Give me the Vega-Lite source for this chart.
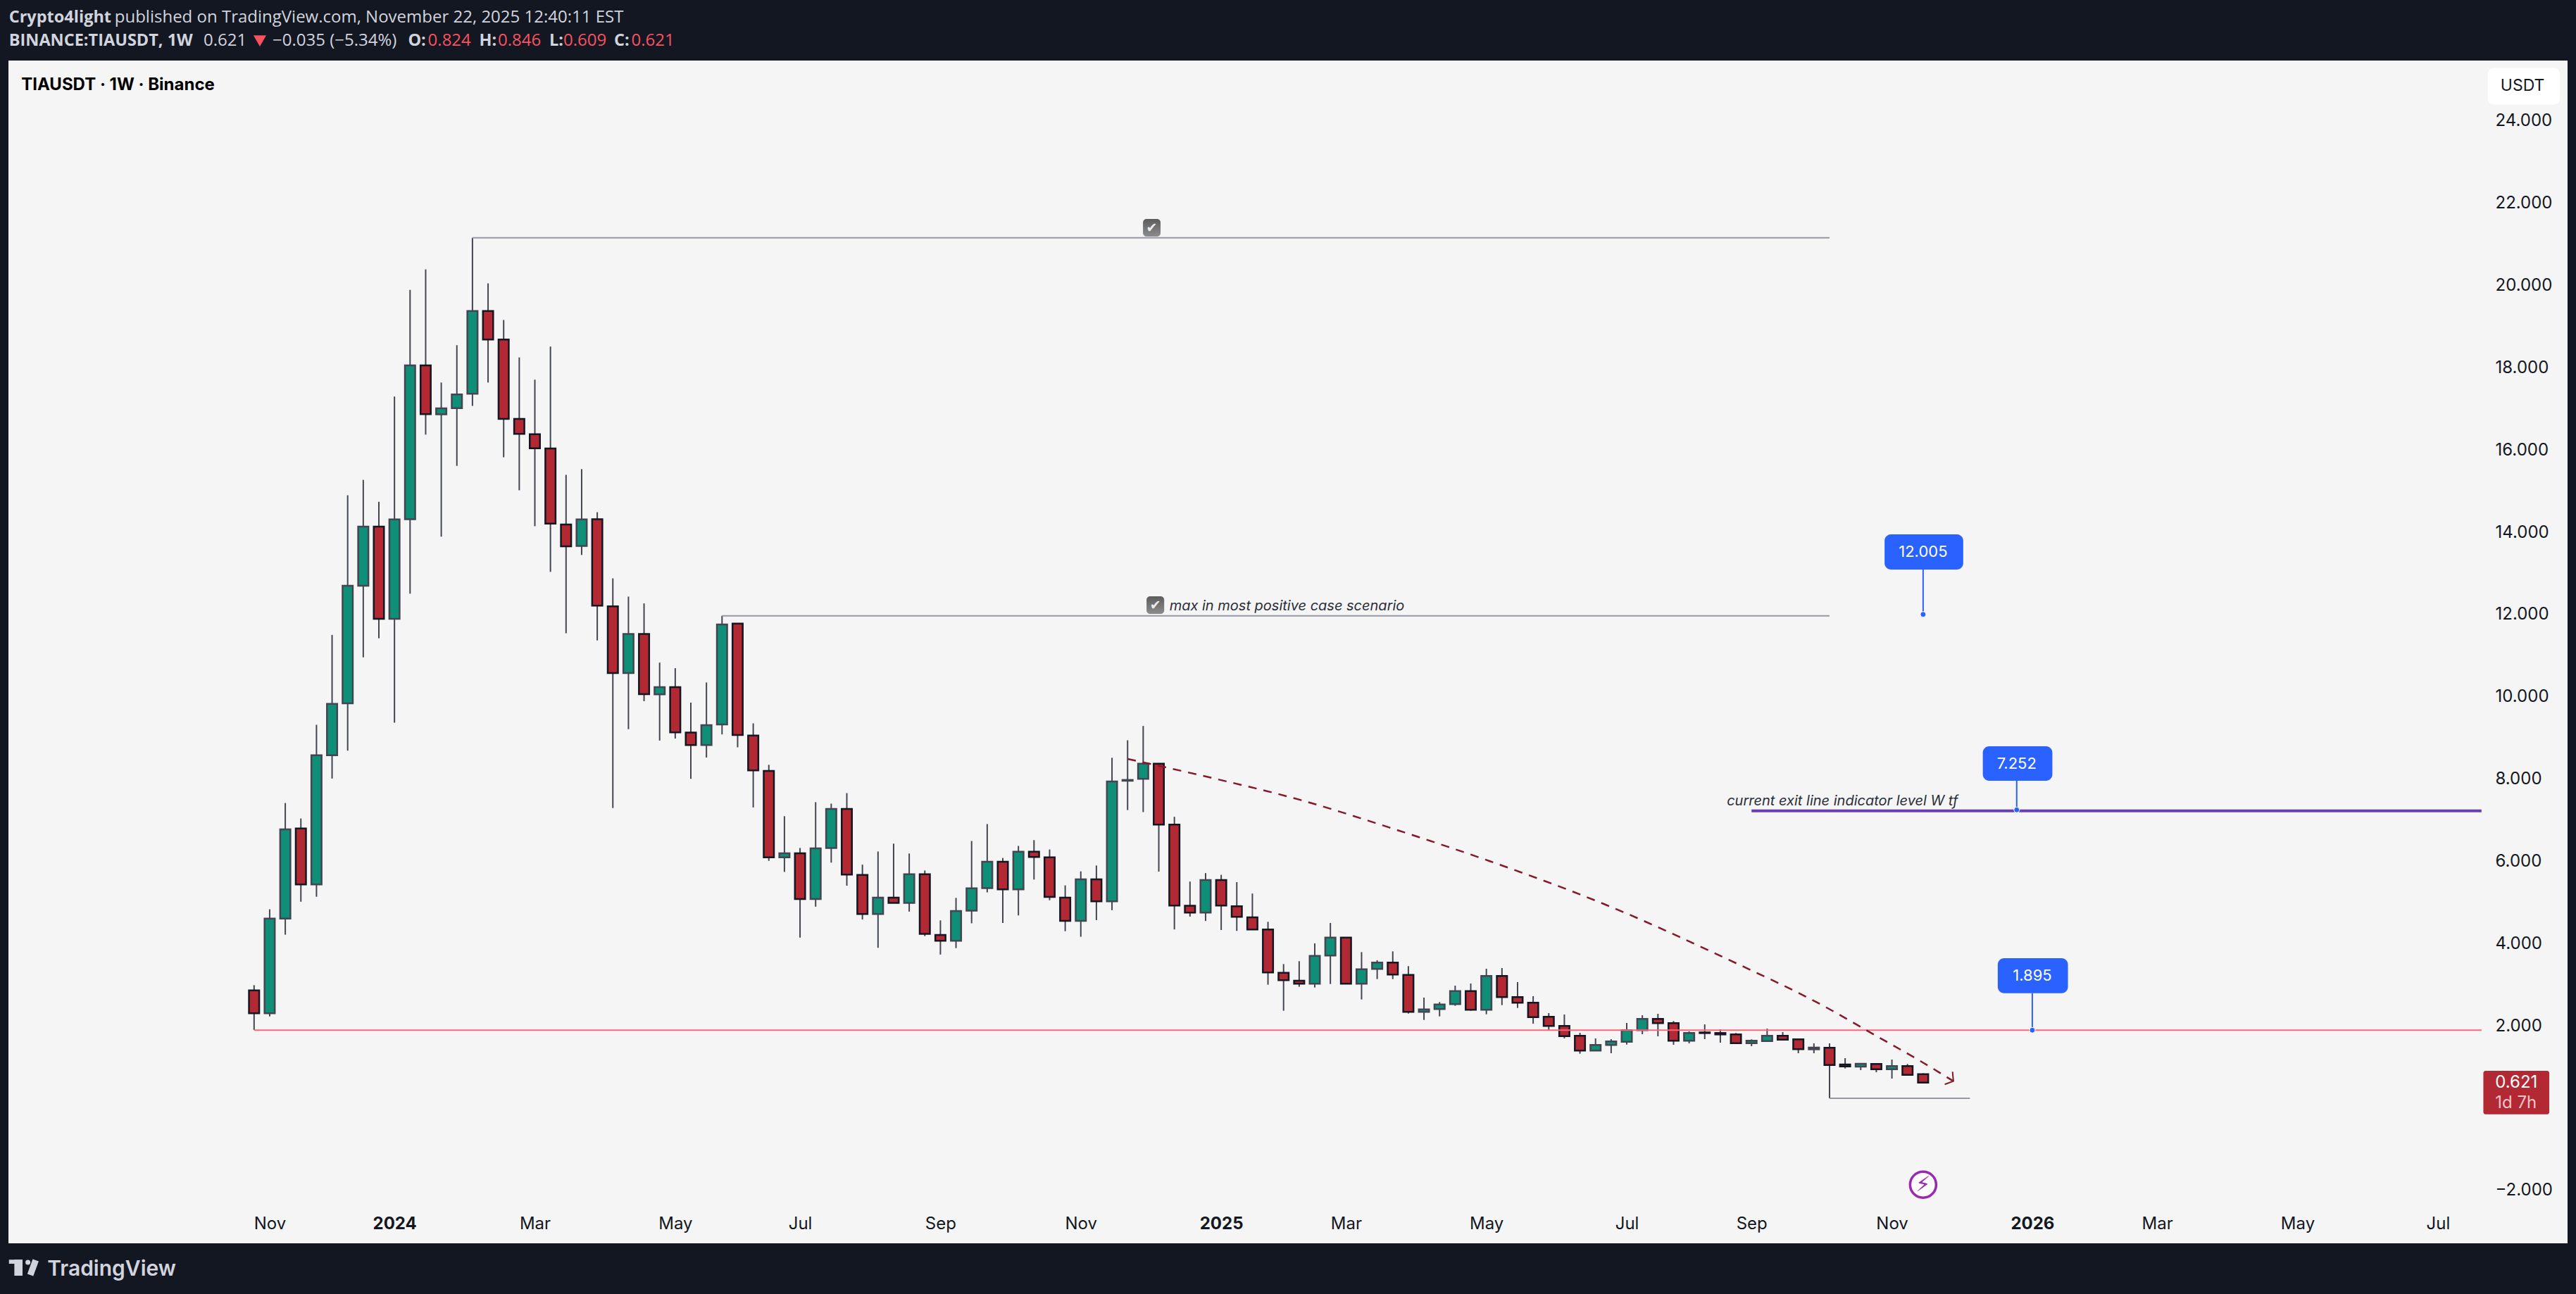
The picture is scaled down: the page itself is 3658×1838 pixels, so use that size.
{
  "$schema": "https://vega.github.io/schema/vega-lite/v6.json",
  "autosize": {"type": "none"},
  "padding": {"left": 12, "top": 86, "right": 12, "bottom": 72},
  "width": 3634,
  "height": 1680,
  "background": "#131722",
  "view": {"fill": "#f5f5f5", "stroke": null},
  "datasets": {
    "candles": [
      {"date":"2023-10-30","open":2.861,"high":2.989,"low":1.903,"close":2.308},
      {"date":"2023-11-06","open":2.308,"high":4.834,"low":2.23,"close":4.607},
      {"date":"2023-11-13","open":4.607,"high":7.418,"low":4.217,"close":6.779},
      {"date":"2023-11-20","open":6.8,"high":7.042,"low":5.019,"close":5.438},
      {"date":"2023-11-27","open":5.438,"high":9.32,"low":5.14,"close":8.582},
      {"date":"2023-12-04","open":8.582,"high":11.506,"low":8.014,"close":9.831},
      {"date":"2023-12-11","open":9.843,"high":14.9,"low":8.69,"close":12.699},
      {"date":"2023-12-18","open":12.7,"high":15.275,"low":10.96,"close":14.14},
      {"date":"2023-12-25","open":14.14,"high":14.742,"low":11.424,"close":11.895},
      {"date":"2024-01-01","open":11.895,"high":17.3,"low":9.371,"close":14.315},
      {"date":"2024-01-08","open":14.32,"high":19.895,"low":12.507,"close":18.061},
      {"date":"2024-01-15","open":18.06,"high":20.393,"low":16.376,"close":16.874},
      {"date":"2024-01-22","open":16.87,"high":17.642,"low":13.895,"close":17.013},
      {"date":"2024-01-29","open":17.02,"high":18.55,"low":15.616,"close":17.354},
      {"date":"2024-02-05","open":17.37,"high":21.16,"low":17.074,"close":19.38},
      {"date":"2024-02-12","open":19.38,"high":20.053,"low":17.642,"close":18.69},
      {"date":"2024-02-19","open":18.69,"high":19.162,"low":15.825,"close":16.76},
      {"date":"2024-02-26","open":16.76,"high":18.253,"low":15.022,"close":16.393},
      {"date":"2024-03-04","open":16.385,"high":17.712,"low":14.149,"close":16.044},
      {"date":"2024-03-11","open":16.04,"high":18.515,"low":13.039,"close":14.21},
      {"date":"2024-03-18","open":14.19,"high":15.398,"low":11.546,"close":13.66},
      {"date":"2024-03-25","open":13.67,"high":15.537,"low":13.45,"close":14.315},
      {"date":"2024-04-01","open":14.32,"high":14.489,"low":11.371,"close":12.218},
      {"date":"2024-04-08","open":12.2,"high":12.882,"low":7.297,"close":10.577},
      {"date":"2024-04-15","open":10.577,"high":12.437,"low":9.213,"close":11.529},
      {"date":"2024-04-22","open":11.527,"high":12.272,"low":9.895,"close":10.065},
      {"date":"2024-04-29","open":10.06,"high":10.832,"low":8.937,"close":10.235},
      {"date":"2024-05-06","open":10.235,"high":10.697,"low":8.986,"close":9.135},
      {"date":"2024-05-13","open":9.13,"high":9.859,"low":8.007,"close":8.83},
      {"date":"2024-05-20","open":8.83,"high":10.349,"low":8.525,"close":9.313},
      {"date":"2024-05-27","open":9.33,"high":11.97,"low":9.086,"close":11.761},
      {"date":"2024-06-03","open":11.78,"high":11.79,"low":8.773,"close":9.071},
      {"date":"2024-06-10","open":9.06,"high":9.355,"low":7.311,"close":8.213},
      {"date":"2024-06-17","open":8.2,"high":8.348,"low":6.013,"close":6.098},
      {"date":"2024-06-24","open":6.098,"high":7.098,"low":5.743,"close":6.197},
      {"date":"2024-07-01","open":6.197,"high":6.325,"low":4.146,"close":5.083},
      {"date":"2024-07-08","open":5.083,"high":7.439,"low":4.898,"close":6.318},
      {"date":"2024-07-15","open":6.325,"high":7.404,"low":5.97,"close":7.276},
      {"date":"2024-07-22","open":7.276,"high":7.659,"low":5.409,"close":5.679},
      {"date":"2024-07-29","open":5.67,"high":5.92,"low":4.586,"close":4.721},
      {"date":"2024-08-05","open":4.721,"high":6.24,"low":3.898,"close":5.118},
      {"date":"2024-08-12","open":5.118,"high":6.431,"low":4.99,"close":4.991},
      {"date":"2024-08-19","open":4.99,"high":6.19,"low":4.778,"close":5.686},
      {"date":"2024-08-26","open":5.686,"high":5.778,"low":4.182,"close":4.238},
      {"date":"2024-09-02","open":4.21,"high":4.565,"low":3.734,"close":4.068},
      {"date":"2024-09-09","open":4.068,"high":5.111,"low":3.891,"close":4.792},
      {"date":"2024-09-16","open":4.8,"high":6.495,"low":4.494,"close":5.345},
      {"date":"2024-09-23","open":5.35,"high":6.907,"low":5.246,"close":5.991},
      {"date":"2024-09-30","open":5.991,"high":6.083,"low":4.501,"close":5.317},
      {"date":"2024-10-07","open":5.317,"high":6.375,"low":4.685,"close":6.233},
      {"date":"2024-10-14","open":6.233,"high":6.516,"low":5.558,"close":6.105},
      {"date":"2024-10-21","open":6.1,"high":6.289,"low":5.054,"close":5.133},
      {"date":"2024-10-28","open":5.12,"high":5.416,"low":4.302,"close":4.551},
      {"date":"2024-11-04","open":4.551,"high":5.757,"low":4.167,"close":5.565},
      {"date":"2024-11-11","open":5.565,"high":5.899,"low":4.572,"close":5.026},
      {"date":"2024-11-18","open":5.026,"high":8.518,"low":4.813,"close":7.943},
      {"date":"2024-11-25","open":7.96,"high":8.944,"low":7.247,"close":7.979},
      {"date":"2024-12-02","open":8.007,"high":9.292,"low":7.198,"close":8.376},
      {"date":"2024-12-09","open":8.376,"high":8.39,"low":5.75,"close":6.893},
      {"date":"2024-12-16","open":6.893,"high":7.084,"low":4.345,"close":4.927},
      {"date":"2024-12-23","open":4.92,"high":5.509,"low":4.657,"close":4.756},
      {"date":"2024-12-30","open":4.756,"high":5.715,"low":4.551,"close":5.544},
      {"date":"2025-01-06","open":5.544,"high":5.672,"low":4.33,"close":4.927},
      {"date":"2025-01-13","open":4.91,"high":5.495,"low":4.309,"close":4.65},
      {"date":"2025-01-20","open":4.64,"high":5.218,"low":4.345,"close":4.345},
      {"date":"2025-01-27","open":4.342,"high":4.53,"low":3.001,"close":3.298},
      {"date":"2025-02-03","open":3.29,"high":3.503,"low":2.368,"close":3.11},
      {"date":"2025-02-10","open":3.1,"high":3.572,"low":2.95,"close":3.024},
      {"date":"2025-02-17","open":3.024,"high":4.005,"low":2.933,"close":3.703},
      {"date":"2025-02-24","open":3.71,"high":4.502,"low":3.018,"close":4.148},
      {"date":"2025-03-03","open":4.148,"high":4.148,"low":3.02,"close":3.024},
      {"date":"2025-03-10","open":3.024,"high":3.794,"low":2.642,"close":3.378},
      {"date":"2025-03-17","open":3.383,"high":3.595,"low":3.138,"close":3.538},
      {"date":"2025-03-24","open":3.538,"high":3.811,"low":3.138,"close":3.247},
      {"date":"2025-03-31","open":3.24,"high":3.452,"low":2.299,"close":2.339},
      {"date":"2025-04-07","open":2.339,"high":2.687,"low":2.145,"close":2.402},
      {"date":"2025-04-14","open":2.408,"high":2.579,"low":2.231,"close":2.522},
      {"date":"2025-04-21","open":2.528,"high":2.978,"low":2.488,"close":2.847},
      {"date":"2025-04-28","open":2.847,"high":3.03,"low":2.368,"close":2.391},
      {"date":"2025-05-05","open":2.391,"high":3.389,"low":2.282,"close":3.212},
      {"date":"2025-05-12","open":3.212,"high":3.406,"low":2.505,"close":2.699},
      {"date":"2025-05-19","open":2.699,"high":3.064,"low":2.436,"close":2.562},
      {"date":"2025-05-26","open":2.562,"high":2.722,"low":2.054,"close":2.214},
      {"date":"2025-06-02","open":2.22,"high":2.311,"low":1.9,"close":1.997},
      {"date":"2025-06-09","open":1.997,"high":2.277,"low":1.695,"close":1.752},
      {"date":"2025-06-16","open":1.758,"high":1.832,"low":1.324,"close":1.398},
      {"date":"2025-06-23","open":1.398,"high":1.695,"low":1.398,"close":1.535},
      {"date":"2025-06-30","open":1.535,"high":1.677,"low":1.335,"close":1.62},
      {"date":"2025-07-07","open":1.615,"high":2.071,"low":1.546,"close":1.894},
      {"date":"2025-07-14","open":1.894,"high":2.259,"low":1.797,"close":2.168},
      {"date":"2025-07-21","open":2.168,"high":2.294,"low":1.746,"close":2.065},
      {"date":"2025-07-28","open":2.065,"high":2.117,"low":1.541,"close":1.637},
      {"date":"2025-08-04","open":1.637,"high":1.866,"low":1.575,"close":1.826},
      {"date":"2025-08-11","open":1.84,"high":2.037,"low":1.677,"close":1.825},
      {"date":"2025-08-18","open":1.826,"high":1.917,"low":1.592,"close":1.792},
      {"date":"2025-08-25","open":1.792,"high":1.826,"low":1.58,"close":1.58},
      {"date":"2025-09-01","open":1.58,"high":1.672,"low":1.506,"close":1.637},
      {"date":"2025-09-08","open":1.632,"high":1.934,"low":1.632,"close":1.757},
      {"date":"2025-09-15","open":1.757,"high":1.849,"low":1.666,"close":1.666},
      {"date":"2025-09-22","open":1.672,"high":1.695,"low":1.335,"close":1.432},
      {"date":"2025-09-29","open":1.43,"high":1.575,"low":1.335,"close":1.472},
      {"date":"2025-10-06","open":1.466,"high":1.575,"low":0.24,"close":1.05},
      {"date":"2025-10-13","open":1.06,"high":1.215,"low":0.964,"close":1.016},
      {"date":"2025-10-20","open":1.01,"high":1.096,"low":0.924,"close":1.078},
      {"date":"2025-10-27","open":1.073,"high":1.096,"low":0.873,"close":0.947},
      {"date":"2025-11-03","open":0.947,"high":1.181,"low":0.719,"close":1.021},
      {"date":"2025-11-10","open":1.021,"high":1.073,"low":0.81,"close":0.81},
      {"date":"2025-11-17","open":0.824,"high":0.846,"low":0.609,"close":0.621}
    ],
    "levels": [
      {"name":"top","from":"2024-02-05","to":"2025-10-06","price":21.16},
      {"name":"mid","from":"2024-05-27","to":"2025-10-06","price":11.97},
      {"name":"low","from":"2025-10-06","to":"2025-12-08","price":0.24}
    ],
    "trend": [
      {"date":"2024-11-25T00:00:00Z","price":8.49},
      {"date":"2024-12-30T14:00:00Z","price":8.057},
      {"date":"2025-02-11T00:00:00Z","price":7.486},
      {"date":"2025-03-25T07:00:00Z","price":6.773},
      {"date":"2025-05-06T14:00:00Z","price":6.003},
      {"date":"2025-06-27T12:00:00Z","price":4.947},
      {"date":"2025-08-20T17:00:00Z","price":3.634},
      {"date":"2025-10-04T00:00:00Z","price":2.465},
      {"date":"2025-10-26T05:00:00Z","price":1.78},
      {"date":"2025-11-17T07:00:00Z","price":1.096},
      {"date":"2025-11-30T14:00:00Z","price":0.656}
    ],
    "arrow": [
      {"date":"2025-11-30T05:00:00Z","price":0.885},
      {"date":"2025-11-30T14:00:00Z","price":0.656},
      {"date":"2025-11-26T17:00:00Z","price":0.577}
    ],
    "callouts": [
      {"date":"2025-11-17","price":12.005,"from":"2025-10-30T17:00:00Z","to":"2025-12-05T00:00:00Z","top":13.95,"bottom":13.095,"mid":13.52},
      {"date":"2025-12-29","price":7.252,"from":"2025-12-13T19:00:00Z","to":"2026-01-14T00:00:00Z","top":8.8,"bottom":7.96,"mid":8.37},
      {"date":"2026-01-05","price":1.895,"from":"2025-12-20T12:00:00Z","to":"2026-01-21T00:00:00Z","top":3.646,"bottom":2.795,"mid":3.218}
    ],
    "checks": [
      {"from":"2024-12-01T22:00:00Z","to":"2024-12-09T19:00:00Z","mid":"2024-12-05T20:00:00Z","top":21.62,"bottom":21.19,"price":21.405},
      {"from":"2024-12-03T12:00:00Z","to":"2024-12-11T10:00:00Z","mid":"2024-12-07T11:00:00Z","top":12.444,"bottom":12.016,"price":12.23}
    ],
    "notes": [
      {"date":"2024-12-13T19:00:00Z","price":12.213,"text":"max in most positive case scenario"},
      {"date":"2025-08-20T22:00:00Z","price":7.458,"text":"current exit line indicator level W tf"}
    ],
    "headerBold": [
      {"date":"2023-07-12","price":26.52,"text":"Crypto4light"},
      {"date":"2023-07-12","price":25.95,"text":"BINANCE:TIAUSDT, 1W"},
      {"date":"2024-01-07T02:00:00Z","price":25.95,"text":"O:"},
      {"date":"2024-02-08T00:00:00Z","price":25.95,"text":"H:"},
      {"date":"2024-03-10T12:00:00Z","price":25.95,"text":"L:"},
      {"date":"2024-04-08T14:00:00Z","price":25.95,"text":"C:"}
    ],
    "headerPlain": [
      {"date":"2023-08-28T10:00:00Z","price":26.52,"text":"published on TradingView.com, November 22, 2025 12:40:11 EST"},
      {"date":"2023-10-07T07:00:00Z","price":25.95,"text":"0.621"},
      {"date":"2023-11-07T07:00:00Z","price":25.95,"text":"−0.035 (−5.34%)"}
    ],
    "headerRed": [
      {"date":"2024-01-16","price":25.95,"text":"0.824"},
      {"date":"2024-02-16T10:00:00Z","price":25.95,"text":"0.846"},
      {"date":"2024-03-16T19:00:00Z","price":25.95,"text":"0.609"},
      {"date":"2024-04-16T07:00:00Z","price":25.95,"text":"0.621"}
    ],
    "logoBars": [
      {"from":"2023-07-12T00:00:00Z","to":"2023-07-18T02:00:00Z","top":-3.685,"bottom":-3.783},
      {"from":"2023-07-14T10:00:00Z","to":"2023-07-18T02:00:00Z","top":-3.685,"bottom":-4.074}
    ],
    "logoSlash": [
      {"date":"2023-07-24T00:00:00Z","price":-3.697},
      {"date":"2023-07-21T14:00:00Z","price":-4.057}
    ]
  },
  "resolve": {"axis": {"x": "independent", "y": "independent"}},
  "layer": [
    {
      "data": {"name": "candles"},
      "mark": {"type": "rule", "color": "#434651", "strokeWidth": 2},
      "encoding": {
        "x": {
          "field": "date",
          "type": "temporal",
          "title": null,
          "scale": {"type": "utc", "nice": false, "padding": 0, "domain": ["2023-07-11T18:29:00Z", "2026-09-02T04:48:00Z"]},
          "axis": {
            "values": ["2023-11-06T00:00:00Z","2024-01-01T00:00:00Z","2024-03-04T00:00:00Z","2024-05-06T00:00:00Z","2024-07-01T00:00:00Z","2024-09-02T00:00:00Z","2024-11-04T00:00:00Z","2025-01-06T00:00:00Z","2025-03-03T00:00:00Z","2025-05-05T00:00:00Z","2025-07-07T00:00:00Z","2025-09-01T00:00:00Z","2025-11-03T00:00:00Z","2026-01-05T00:00:00Z","2026-03-02T00:00:00Z","2026-05-04T00:00:00Z","2026-07-06T00:00:00Z"],
            "labelExpr": "utcmonth(datum.value)==0 ? utcFormat(datum.value,'%Y') : utcFormat(datum.value,'%b')",
            "labelFontWeight": {"condition": {"test": "utcmonth(datum.value)==0", "value": 700}, "value": 400},
            "domain": false,
            "ticks": false,
            "grid": false,
            "labelFont": "Inter",
            "labelFontSize": 24,
            "labelColor": "#131722",
            "labelBaseline": "middle",
            "labelPadding": -28,
            "labelOverlap": false,
            "labelFlush": false
          }
        },
        "y": {
          "field": "low",
          "type": "quantitative",
          "title": null,
          "scale": {"domain": [-3.287, 25.471], "nice": false, "zero": false},
          "axis": {
            "orient": "right",
            "values": [-2,2,4,6,8,10,12,14,16,18,20,22,24],
            "format": ".3f",
            "domain": false,
            "ticks": false,
            "grid": false,
            "labelFont": "Inter",
            "labelFontSize": 24,
            "labelColor": "#131722",
            "labelAlign": "left",
            "labelPadding": -103,
            "labelOverlap": false,
            "labelFlush": false
          }
        },
        "y2": {"field": "high"}
      }
    },
    {
      "data": {"name": "candles"},
      "mark": {"type": "bar", "size": 14.5, "strokeWidth": 2.5},
      "encoding": {
        "x": {"field": "date", "type": "temporal", "scale": {"type": "utc"}, "axis": null},
        "y": {"field": "open", "type": "quantitative", "axis": null},
        "y2": {"field": "close"},
        "fill": {"condition": {"test": "datum.close >= datum.open", "value": "#0f8f77"}, "value": "#b22833"},
        "stroke": {"condition": {"test": "datum.close >= datum.open", "value": "#434651"}, "value": "#131722"}
      }
    },
    {
      "data": {"name": "levels"},
      "mark": {"type": "rule", "color": "#9598a1", "strokeWidth": 2},
      "encoding": {
        "x": {"field": "from", "type": "temporal", "scale": {"type": "utc"}, "axis": null},
        "x2": {"field": "to"},
        "y": {"field": "price", "type": "quantitative", "axis": null}
      }
    },
    {
      "data": {"values": [{"from": "2023-10-30", "to": "2026-07-25T14:00:00Z", "price": 1.895}]},
      "mark": {"type": "rule", "color": "#f7677a", "strokeWidth": 2},
      "encoding": {
        "x": {"field": "from", "type": "temporal", "scale": {"type": "utc"}, "axis": null},
        "x2": {"field": "to"},
        "y": {"field": "price", "type": "quantitative", "axis": null}
      }
    },
    {
      "data": {"values": [{"from": "2025-09-01", "to": "2026-07-25T14:00:00Z", "price": 7.229}]},
      "mark": {"type": "rule", "color": "#673fb0", "strokeWidth": 4},
      "encoding": {
        "x": {"field": "from", "type": "temporal", "scale": {"type": "utc"}, "axis": null},
        "x2": {"field": "to"},
        "y": {"field": "price", "type": "quantitative", "axis": null}
      }
    },
    {
      "data": {"name": "trend"},
      "mark": {"type": "line", "color": "#85192b", "strokeWidth": 2.5, "strokeDash": [12, 10], "interpolate": "monotone"},
      "encoding": {
        "x": {"field": "date", "type": "temporal", "scale": {"type": "utc"}, "axis": null},
        "y": {"field": "price", "type": "quantitative", "axis": null}
      }
    },
    {
      "data": {"name": "arrow"},
      "mark": {"type": "line", "color": "#85192b", "strokeWidth": 2},
      "encoding": {
        "x": {"field": "date", "type": "temporal", "scale": {"type": "utc"}, "axis": null},
        "y": {"field": "price", "type": "quantitative", "axis": null},
        "order": {"field": "price", "sort": "descending"}
      }
    },
    {
      "data": {"name": "callouts"},
      "mark": {"type": "rule", "color": "#2962ff", "strokeWidth": 2},
      "encoding": {
        "x": {"field": "date", "type": "temporal", "scale": {"type": "utc"}, "axis": null},
        "y": {"field": "price", "type": "quantitative", "axis": null},
        "y2": {"field": "bottom"}
      }
    },
    {
      "data": {"name": "callouts"},
      "mark": {"type": "point", "filled": true, "size": 64, "color": "#2962ff", "stroke": "#ffffff", "strokeWidth": 1, "opacity": 1},
      "encoding": {
        "x": {"field": "date", "type": "temporal", "scale": {"type": "utc"}, "axis": null},
        "y": {"field": "price", "type": "quantitative", "axis": null}
      }
    },
    {
      "data": {"name": "callouts"},
      "mark": {"type": "rect", "color": "#2962ff", "cornerRadius": 9},
      "encoding": {
        "x": {"field": "from", "type": "temporal", "scale": {"type": "utc"}, "axis": null},
        "x2": {"field": "to"},
        "y": {"field": "top", "type": "quantitative", "axis": null},
        "y2": {"field": "bottom"}
      }
    },
    {
      "data": {"name": "callouts"},
      "mark": {"type": "text", "font": "Inter", "fontSize": 22, "color": "#ffffff", "align": "center", "baseline": "middle"},
      "encoding": {
        "x": {"field": "date", "type": "temporal", "scale": {"type": "utc"}, "axis": null},
        "y": {"field": "mid", "type": "quantitative", "axis": null},
        "text": {"field": "price", "type": "quantitative", "format": ".3f"}
      }
    },
    {
      "data": {"name": "checks"},
      "mark": {
        "type": "rect",
        "cornerRadius": 5,
        "color": {"gradient": "linear", "x1": 0, "y1": 0, "x2": 0, "y2": 1, "stops": [{"offset": 0, "color": "#5c5c5c"}, {"offset": 1, "color": "#8c8c8c"}]}
      },
      "encoding": {
        "x": {"field": "from", "type": "temporal", "scale": {"type": "utc"}, "axis": null},
        "x2": {"field": "to"},
        "y": {"field": "top", "type": "quantitative", "axis": null},
        "y2": {"field": "bottom"}
      }
    },
    {
      "data": {"name": "checks"},
      "mark": {"type": "text", "font": "DejaVu Sans", "fontSize": 19, "color": "#ececec", "align": "center", "baseline": "middle", "text": "✔"},
      "encoding": {
        "x": {"field": "mid", "type": "temporal", "scale": {"type": "utc"}, "axis": null},
        "y": {"field": "price", "type": "quantitative", "axis": null}
      }
    },
    {
      "data": {"name": "notes"},
      "mark": {"type": "text", "font": "Inter", "fontSize": 20, "fontStyle": "italic", "color": "#2a2e39", "align": "left", "baseline": "middle"},
      "encoding": {
        "x": {"field": "date", "type": "temporal", "scale": {"type": "utc"}, "axis": null},
        "y": {"field": "price", "type": "quantitative", "axis": null},
        "text": {"field": "text", "type": "nominal"}
      }
    },
    {
      "data": {"values": [{"from": "2026-07-26T10:00:00Z", "to": "2026-08-25", "top": 0.907, "bottom": -0.149}]},
      "mark": {"type": "rect", "color": "#b22833", "cornerRadius": 3},
      "encoding": {
        "x": {"field": "from", "type": "temporal", "scale": {"type": "utc"}, "axis": null},
        "x2": {"field": "to"},
        "y": {"field": "top", "type": "quantitative", "axis": null},
        "y2": {"field": "bottom"}
      }
    },
    {
      "data": {"values": [{"date": "2026-07-31T17:00:00Z", "price": 0.616, "text": "0.621"}]},
      "mark": {"type": "text", "font": "Inter", "fontSize": 24, "color": "#ffffff", "align": "left", "baseline": "middle"},
      "encoding": {
        "x": {"field": "date", "type": "temporal", "scale": {"type": "utc"}, "axis": null},
        "y": {"field": "price", "type": "quantitative", "axis": null},
        "text": {"field": "text", "type": "nominal"}
      }
    },
    {
      "data": {"values": [{"date": "2026-07-31T17:00:00Z", "price": 0.125, "text": "1d 7h"}]},
      "mark": {"type": "text", "font": "Inter", "fontSize": 24, "color": "#f0c4c8", "align": "left", "baseline": "middle"},
      "encoding": {
        "x": {"field": "date", "type": "temporal", "scale": {"type": "utc"}, "axis": null},
        "y": {"field": "price", "type": "quantitative", "axis": null},
        "text": {"field": "text", "type": "nominal"}
      }
    },
    {
      "data": {"values": [{"from": "2026-07-28T10:00:00Z", "to": "2026-08-29T17:00:00Z", "top": 25.29, "bottom": 24.4}]},
      "mark": {"type": "rect", "color": "#ffffff", "cornerRadius": 8},
      "encoding": {
        "x": {"field": "from", "type": "temporal", "scale": {"type": "utc"}, "axis": null},
        "x2": {"field": "to"},
        "y": {"field": "top", "type": "quantitative", "axis": null},
        "y2": {"field": "bottom"}
      }
    },
    {
      "data": {"values": [{"date": "2026-08-13", "price": 24.85, "text": "USDT"}]},
      "mark": {"type": "text", "font": "Inter", "fontSize": 23, "color": "#131722", "align": "center", "baseline": "middle"},
      "encoding": {
        "x": {"field": "date", "type": "temporal", "scale": {"type": "utc"}, "axis": null},
        "y": {"field": "price", "type": "quantitative", "axis": null},
        "text": {"field": "text", "type": "nominal"}
      }
    },
    {
      "data": {"values": [{"date": "2023-07-17T12:00:00Z", "price": 24.88, "text": "TIAUSDT · 1W · Binance"}]},
      "mark": {"type": "text", "font": "Inter", "fontSize": 24, "fontWeight": 700, "color": "#000000", "align": "left", "baseline": "middle"},
      "encoding": {
        "x": {"field": "date", "type": "temporal", "scale": {"type": "utc"}, "axis": null},
        "y": {"field": "price", "type": "quantitative", "axis": null},
        "text": {"field": "text", "type": "nominal"}
      }
    },
    {
      "data": {"values": [{"date": "2025-11-17", "price": -1.861}]},
      "mark": {"type": "point", "shape": "circle", "size": 1369, "fill": "#ffffff", "stroke": "#9c27b0", "strokeWidth": 3.5, "opacity": 1},
      "encoding": {
        "x": {"field": "date", "type": "temporal", "scale": {"type": "utc"}, "axis": null},
        "y": {"field": "price", "type": "quantitative", "axis": null}
      }
    },
    {
      "data": {"values": [{"date": "2025-11-17", "price": -1.861, "text": "⚡"}]},
      "mark": {"type": "text", "font": "DejaVu Sans", "fontSize": 30, "color": "#9c27b0", "align": "center", "baseline": "middle"},
      "encoding": {
        "x": {"field": "date", "type": "temporal", "scale": {"type": "utc"}, "axis": null},
        "y": {"field": "price", "type": "quantitative", "axis": null},
        "text": {"field": "text", "type": "nominal"}
      }
    },
    {
      "data": {"name": "headerBold"},
      "mark": {"type": "text", "font": "Open Sans", "fontSize": 23.5, "fontWeight": 700, "color": "#d1d4dc", "align": "left", "baseline": "middle"},
      "encoding": {
        "x": {"field": "date", "type": "temporal", "scale": {"type": "utc"}, "axis": null},
        "y": {"field": "price", "type": "quantitative", "axis": null},
        "text": {"field": "text", "type": "nominal"}
      }
    },
    {
      "data": {"name": "headerPlain"},
      "mark": {"type": "text", "font": "Open Sans", "fontSize": 24, "color": "#d1d4dc", "align": "left", "baseline": "middle"},
      "encoding": {
        "x": {"field": "date", "type": "temporal", "scale": {"type": "utc"}, "axis": null},
        "y": {"field": "price", "type": "quantitative", "axis": null},
        "text": {"field": "text", "type": "nominal"}
      }
    },
    {
      "data": {"name": "headerRed"},
      "mark": {"type": "text", "font": "Open Sans", "fontSize": 24, "color": "#f7525f", "align": "left", "baseline": "middle"},
      "encoding": {
        "x": {"field": "date", "type": "temporal", "scale": {"type": "utc"}, "axis": null},
        "y": {"field": "price", "type": "quantitative", "axis": null},
        "text": {"field": "text", "type": "nominal"}
      }
    },
    {
      "data": {"values": [{"date": "2023-11-01T14:00:00Z", "price": 25.95}]},
      "mark": {"type": "point", "filled": true, "shape": "triangle-down", "size": 330, "color": "#f7525f", "opacity": 1},
      "encoding": {
        "x": {"field": "date", "type": "temporal", "scale": {"type": "utc"}, "axis": null},
        "y": {"field": "price", "type": "quantitative", "axis": null}
      }
    },
    {
      "data": {"name": "logoBars"},
      "mark": {"type": "rect", "color": "#d1d4dc"},
      "encoding": {
        "x": {"field": "from", "type": "temporal", "scale": {"type": "utc"}, "axis": null},
        "x2": {"field": "to"},
        "y": {"field": "top", "type": "quantitative", "axis": null},
        "y2": {"field": "bottom"}
      }
    },
    {
      "data": {"values": [{"date": "2023-07-20T12:00:00Z", "price": -3.749}]},
      "mark": {"type": "point", "filled": true, "shape": "circle", "size": 50, "color": "#d1d4dc", "opacity": 1},
      "encoding": {
        "x": {"field": "date", "type": "temporal", "scale": {"type": "utc"}, "axis": null},
        "y": {"field": "price", "type": "quantitative", "axis": null}
      }
    },
    {
      "data": {"name": "logoSlash"},
      "mark": {"type": "line", "color": "#d1d4dc", "strokeWidth": 9},
      "encoding": {
        "x": {"field": "date", "type": "temporal", "scale": {"type": "utc"}, "axis": null},
        "y": {"field": "price", "type": "quantitative", "axis": null}
      }
    },
    {
      "data": {"values": [{"date": "2023-07-29T05:00:00Z", "price": -3.92, "text": "TradingView"}]},
      "mark": {"type": "text", "font": "Inter", "fontSize": 30, "fontWeight": 600, "color": "#d1d4dc", "align": "left", "baseline": "middle"},
      "encoding": {
        "x": {"field": "date", "type": "temporal", "scale": {"type": "utc"}, "axis": null},
        "y": {"field": "price", "type": "quantitative", "axis": null},
        "text": {"field": "text", "type": "nominal"}
      }
    }
  ],
  "config": {"style": {"cell": {"stroke": null}}}
}
